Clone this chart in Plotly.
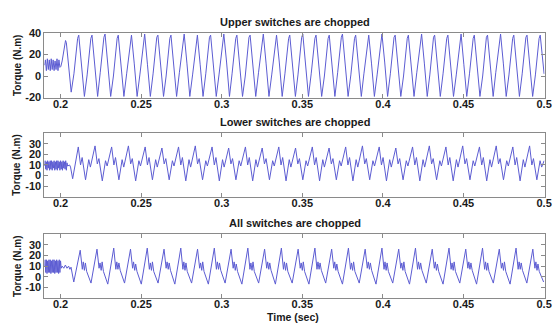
import plotly.graph_objects as go

# ---------------- data ----------------
x_ticks = [0.2, 0.25, 0.3, 0.35, 0.4, 0.45, 0.5]
x_tick_labels = ["0.2", "0.25", "0.3", "0.35", "0.4", "0.45", "0.5"]
top_y_ticks = [-20, 0, 20, 40]
low_y_ticks = [-10, 0, 10, 20, 30]
titles = ["Upper switches are chopped", "Lower switches are chopped", "All switches are chopped"]

# Panel 1: upper switches chopped (time in s, torque in N.m)
upper_t = [
    0.1900, 0.1906, 0.1912, 0.1918, 0.1924, 0.1930, 0.1936, 0.1942, 0.1948, 0.1954,
    0.1960, 0.1966, 0.1972, 0.1978, 0.1984, 0.1990, 0.1996,
    0.2002, 0.2010, 0.2020, 0.2031, 0.2036, 0.2048, 0.2066,
    0.2083, 0.2106, 0.2113, 0.2130, 0.2148,
    0.2165, 0.2188, 0.2195, 0.2212, 0.2230,
    0.2246, 0.2269, 0.2276, 0.2293, 0.2311,
    0.2328, 0.2351, 0.2358, 0.2375, 0.2393,
    0.2410, 0.2433, 0.2440, 0.2457, 0.2475,
    0.2492, 0.2515, 0.2522, 0.2539, 0.2557,
    0.2574, 0.2597, 0.2604, 0.2621, 0.2639,
    0.2655, 0.2678, 0.2685, 0.2702, 0.2720,
    0.2737, 0.2760, 0.2767, 0.2784, 0.2802,
    0.2819, 0.2842, 0.2849, 0.2866, 0.2884,
    0.2901, 0.2924, 0.2931, 0.2948, 0.2966,
    0.2983, 0.3006, 0.3013, 0.3030, 0.3048,
    0.3064, 0.3087, 0.3094, 0.3111, 0.3129,
    0.3146, 0.3169, 0.3176, 0.3193, 0.3211,
    0.3228, 0.3251, 0.3258, 0.3275, 0.3293,
    0.3310, 0.3333, 0.3340, 0.3357, 0.3375,
    0.3392, 0.3415, 0.3422, 0.3439, 0.3457,
    0.3473, 0.3496, 0.3503, 0.3520, 0.3538,
    0.3555, 0.3578, 0.3585, 0.3602, 0.3620,
    0.3637, 0.3660, 0.3667, 0.3684, 0.3702,
    0.3719, 0.3742, 0.3749, 0.3766, 0.3784,
    0.3801, 0.3824, 0.3831, 0.3848, 0.3866,
    0.3882, 0.3905, 0.3912, 0.3929, 0.3947,
    0.3964, 0.3987, 0.3994, 0.4011, 0.4029,
    0.4046, 0.4069, 0.4076, 0.4093, 0.4111,
    0.4128, 0.4151, 0.4158, 0.4175, 0.4193,
    0.4210, 0.4233, 0.4240, 0.4257, 0.4275,
    0.4291, 0.4314, 0.4321, 0.4338, 0.4356,
    0.4373, 0.4396, 0.4403, 0.4420, 0.4438,
    0.4455, 0.4478, 0.4485, 0.4502, 0.4520,
    0.4537, 0.4560, 0.4567, 0.4584, 0.4602,
    0.4619, 0.4642, 0.4649, 0.4666, 0.4684,
    0.4700, 0.4723, 0.4730, 0.4747, 0.4765,
    0.4782, 0.4805, 0.4812, 0.4829, 0.4847,
    0.4864, 0.4887, 0.4894, 0.4911, 0.4929,
    0.4946, 0.4969, 0.4976, 0.4993, 0.5000,
]
upper_y = [
    10, 15, 5, 16, 6, 15, 5, 16, 6, 15,
    5, 14, 6, 16, 5, 15, 8,
    9, 14, 22, 33, 31, 10, -15,
    2, 35, 38, 12, -19,
    1, 35, 38, 11, -19,
    3, 36, 39, 12, -19,
    0, 35, 38, 13, -19,
    2, 34, 38, 12, -19,
    1, 35, 39, 11, -19,
    2, 36, 38, 12, -19,
    0, 35, 38, 13, -19,
    3, 35, 39, 12, -19,
    1, 34, 38, 11, -19,
    2, 36, 38, 12, -19,
    1, 35, 39, 13, -19,
    2, 35, 38, 12, -19,
    0, 36, 38, 11, -19,
    3, 35, 39, 12, -19,
    1, 34, 38, 13, -19,
    2, 35, 38, 12, -19,
    1, 36, 39, 11, -19,
    2, 35, 38, 12, -19,
    0, 35, 38, 13, -19,
    3, 36, 39, 12, -19,
    1, 35, 38, 11, -19,
    2, 34, 38, 12, -19,
    1, 35, 39, 13, -19,
    2, 36, 38, 12, -19,
    0, 35, 38, 11, -19,
    3, 35, 39, 12, -19,
    1, 36, 38, 13, -19,
    2, 35, 38, 12, -19,
    1, 34, 39, 11, -19,
    2, 35, 38, 12, -19,
    0, 36, 38, 13, -19,
    3, 35, 39, 12, -19,
    1, 35, 38, 11, -19,
    2, 36, 38, 12, -19,
    1, 35, 38, 12, 2,
]

# Panel 2: lower switches chopped
lower_t = [
    0.1900, 0.1904, 0.1908, 0.1912, 0.1916, 0.1920, 0.1924, 0.1928, 0.1932, 0.1936,
    0.1940, 0.1944, 0.1948, 0.1952, 0.1956, 0.1960, 0.1964, 0.1968, 0.1972, 0.1976,
    0.1980, 0.1984, 0.1988, 0.1992, 0.1996, 0.2000, 0.2004, 0.2008, 0.2012, 0.2016,
    0.2020, 0.2024, 0.2028, 0.2032, 0.2036, 0.2040, 0.2044,
    0.2056, 0.2062, 0.2075,
    0.2110, 0.2124, 0.2134, 0.2155, 0.2175, 0.2185,
    0.2214, 0.2228, 0.2238, 0.2259, 0.2279, 0.2289,
    0.2317, 0.2331, 0.2341, 0.2362, 0.2382, 0.2392,
    0.2421, 0.2435, 0.2445, 0.2466, 0.2486, 0.2496,
    0.2525, 0.2539, 0.2549, 0.2570, 0.2590, 0.2600,
    0.2629, 0.2643, 0.2653, 0.2674, 0.2694, 0.2704,
    0.2732, 0.2746, 0.2756, 0.2777, 0.2797, 0.2807,
    0.2836, 0.2850, 0.2860, 0.2881, 0.2901, 0.2911,
    0.2940, 0.2954, 0.2964, 0.2985, 0.3005, 0.3015,
    0.3043, 0.3057, 0.3067, 0.3088, 0.3108, 0.3118,
    0.3147, 0.3161, 0.3171, 0.3192, 0.3212, 0.3222,
    0.3251, 0.3265, 0.3275, 0.3296, 0.3316, 0.3326,
    0.3354, 0.3368, 0.3378, 0.3399, 0.3419, 0.3429,
    0.3458, 0.3472, 0.3482, 0.3503, 0.3523, 0.3533,
    0.3562, 0.3576, 0.3586, 0.3607, 0.3627, 0.3637,
    0.3666, 0.3680, 0.3690, 0.3711, 0.3731, 0.3741,
    0.3769, 0.3783, 0.3793, 0.3814, 0.3834, 0.3844,
    0.3873, 0.3887, 0.3897, 0.3918, 0.3938, 0.3948,
    0.3977, 0.3991, 0.4001, 0.4022, 0.4042, 0.4052,
    0.4080, 0.4094, 0.4104, 0.4125, 0.4145, 0.4155,
    0.4184, 0.4198, 0.4208, 0.4229, 0.4249, 0.4259,
    0.4288, 0.4302, 0.4312, 0.4333, 0.4353, 0.4363,
    0.4391, 0.4405, 0.4415, 0.4436, 0.4456, 0.4466,
    0.4495, 0.4509, 0.4519, 0.4540, 0.4560, 0.4570,
    0.4599, 0.4613, 0.4623, 0.4644, 0.4664, 0.4674,
    0.4703, 0.4717, 0.4727, 0.4748, 0.4768, 0.4778,
    0.4806, 0.4820, 0.4830, 0.4851, 0.4871, 0.4881,
    0.4910, 0.4924, 0.4934, 0.4955, 0.4975, 0.4985,
    0.5000,
]
lower_y = [
    9, 14, 6, 13, 5, 14, 7, 13, 5, 14,
    6, 14, 5, 13, 7, 14, 5, 13, 6, 14,
    5, 14, 7, 13, 5, 14, 6, 13, 5, 14,
    7, 13, 6, 14, 5, 12, 9,
    10, 8, -3,
    27, 10, 17, -4, 15, 8,
    28, 11, 16, -5, 14, 9,
    27, 10, 17, -4, 15, 8,
    28, 11, 16, -5, 14, 9,
    27, 10, 17, -4, 15, 8,
    26, 11, 16, -4, 14, 9,
    27, 10, 17, -5, 15, 8,
    28, 11, 16, -4, 14, 9,
    27, 10, 17, -5, 15, 8,
    26, 11, 16, -4, 14, 9,
    27, 10, 17, -5, 15, 8,
    26, 11, 16, -4, 14, 9,
    27, 10, 17, -5, 15, 8,
    26, 11, 16, -4, 14, 9,
    27, 10, 17, -5, 15, 8,
    26, 11, 16, -4, 14, 9,
    27, 10, 17, -5, 15, 8,
    28, 11, 16, -4, 14, 9,
    27, 10, 17, -5, 15, 8,
    26, 11, 16, -4, 14, 9,
    27, 10, 17, -5, 15, 8,
    28, 11, 16, -4, 14, 9,
    27, 10, 17, -5, 15, 8,
    28, 11, 16, -4, 14, 9,
    27, 10, 17, -5, 15, 8,
    28, 11, 16, -4, 14, 9,
    27, 10, 17, -5, 15, 8,
    28, 10, 16, -4, 14, 8,
    14,
]

# Panel 3: all switches chopped
all_t = [
    0.1900, 0.1904, 0.1908, 0.1912, 0.1916, 0.1920, 0.1924, 0.1928, 0.1932, 0.1936,
    0.1940, 0.1944, 0.1948, 0.1952, 0.1956, 0.1960, 0.1964, 0.1968, 0.1972, 0.1976,
    0.1980, 0.1984, 0.1988, 0.1992, 0.1996, 0.2000, 0.2004,
    0.2010, 0.2020, 0.2030, 0.2040, 0.2050, 0.2058, 0.2065, 0.2082,
    0.2122, 0.2135, 0.2141, 0.2148, 0.2154, 0.2162, 0.2189,
    0.2226, 0.2239, 0.2245, 0.2252, 0.2258, 0.2266, 0.2293,
    0.2330, 0.2343, 0.2349, 0.2356, 0.2362, 0.2370, 0.2397,
    0.2434, 0.2447, 0.2453, 0.2460, 0.2466, 0.2474, 0.2501,
    0.2538, 0.2551, 0.2557, 0.2564, 0.2570, 0.2578, 0.2605,
    0.2642, 0.2655, 0.2661, 0.2668, 0.2674, 0.2682, 0.2709,
    0.2746, 0.2759, 0.2765, 0.2772, 0.2778, 0.2786, 0.2813,
    0.2850, 0.2863, 0.2869, 0.2876, 0.2882, 0.2890, 0.2917,
    0.2954, 0.2967, 0.2973, 0.2980, 0.2986, 0.2994, 0.3021,
    0.3058, 0.3071, 0.3077, 0.3084, 0.3090, 0.3098, 0.3125,
    0.3162, 0.3175, 0.3181, 0.3188, 0.3194, 0.3202, 0.3229,
    0.3266, 0.3279, 0.3285, 0.3292, 0.3298, 0.3306, 0.3333,
    0.3370, 0.3383, 0.3389, 0.3396, 0.3402, 0.3410, 0.3437,
    0.3474, 0.3487, 0.3493, 0.3500, 0.3506, 0.3514, 0.3541,
    0.3578, 0.3591, 0.3597, 0.3604, 0.3610, 0.3618, 0.3645,
    0.3682, 0.3695, 0.3701, 0.3708, 0.3714, 0.3722, 0.3749,
    0.3786, 0.3799, 0.3805, 0.3812, 0.3818, 0.3826, 0.3853,
    0.3890, 0.3903, 0.3909, 0.3916, 0.3922, 0.3930, 0.3957,
    0.3994, 0.4007, 0.4013, 0.4020, 0.4026, 0.4034, 0.4061,
    0.4098, 0.4111, 0.4117, 0.4124, 0.4130, 0.4138, 0.4165,
    0.4202, 0.4215, 0.4221, 0.4228, 0.4234, 0.4242, 0.4269,
    0.4306, 0.4319, 0.4325, 0.4332, 0.4338, 0.4346, 0.4373,
    0.4410, 0.4423, 0.4429, 0.4436, 0.4442, 0.4450, 0.4477,
    0.4514, 0.4527, 0.4533, 0.4540, 0.4546, 0.4554, 0.4581,
    0.4618, 0.4631, 0.4637, 0.4644, 0.4650, 0.4658, 0.4685,
    0.4722, 0.4735, 0.4741, 0.4748, 0.4754, 0.4762, 0.4789,
    0.4826, 0.4839, 0.4845, 0.4852, 0.4858, 0.4866, 0.4893,
    0.4930, 0.4943, 0.4949, 0.4956, 0.4962, 0.4970, 0.4997,
]
all_y = [
    10, 16, 4, 16, 3, 15, 4, 16, 4, 16,
    3, 15, 4, 16, 4, 16, 3, 15, 4, 16,
    4, 15, 3, 16, 4, 15, 8,
    10, 8, 11, 8, 10, 7, 9, -5,
    25, 7, 14, 6, 13, 5, -6,
    26, 8, 13, 6, 14, 5, -7,
    27, 7, 14, 7, 13, 6, -6,
    26, 8, 14, 6, 12, 5, -7,
    27, 7, 13, 6, 14, 5, -6,
    26, 8, 14, 7, 13, 6, -7,
    27, 7, 14, 6, 13, 5, -6,
    26, 8, 13, 6, 14, 5, -7,
    27, 7, 14, 7, 13, 6, -6,
    26, 8, 14, 6, 12, 5, -7,
    27, 7, 13, 6, 14, 5, -6,
    26, 8, 14, 7, 13, 6, -7,
    27, 7, 14, 6, 13, 5, -6,
    26, 8, 13, 6, 14, 5, -7,
    27, 7, 14, 7, 13, 6, -6,
    26, 8, 14, 6, 12, 5, -7,
    27, 7, 13, 6, 14, 5, -6,
    26, 8, 14, 7, 13, 6, -7,
    27, 7, 14, 6, 13, 5, -6,
    26, 8, 13, 6, 14, 5, -7,
    27, 7, 14, 7, 13, 6, -6,
    26, 8, 14, 6, 12, 5, -7,
    27, 7, 13, 6, 14, 5, -6,
    26, 8, 14, 7, 13, 6, -7,
    27, 7, 14, 6, 13, 5, -6,
    26, 8, 13, 6, 14, 5, -7,
    27, 7, 14, 7, 13, 6, -6,
    26, 8, 14, 6, 12, 5, -5,
]

# ---------------- figure ----------------
W, H = 558, 328
LINE = "rgb(92,92,210)"
FRAME = "#8a8a8a"
TEXT = "#1a1a1a"
FONT = "Liberation Sans"

x_dom = [45 / W, 551.5 / W]
panels_px = [(28, 95), (132, 198), (237, 303)]
y_doms = [[1 - b / H, 1 - t / H] for t, b in panels_px]
title_px = [17, 120, 225]

series = [(upper_t, upper_y), (lower_t, lower_y), (all_t, all_y)]

fig = go.Figure()
layout = dict(
    width=W, height=H,
    margin=dict(l=0, r=0, t=0, b=0),
    paper_bgcolor="white", plot_bgcolor="white",
    showlegend=False,
    annotations=[],
)

for i, (t, y) in enumerate(series):
    n = "" if i == 0 else str(i + 1)
    fig.add_trace(go.Scatter(x=t, y=y, mode="lines",
                             line=dict(color=LINE, width=1),
                             xaxis="x" + n, yaxis="y" + n,
                             hoverinfo="skip"))
    yt = top_y_ticks if i == 0 else low_y_ticks
    layout["xaxis" + n] = dict(
        domain=x_dom, anchor="y" + n, range=[0.19, 0.5003],
        tickvals=x_ticks, ticktext=x_tick_labels,
        ticks="inside", ticklen=4, tickcolor=FRAME,
        showline=True, linecolor=FRAME, linewidth=1, mirror="ticks",
        showgrid=False, zeroline=False,
        ticklabelstandoff=-4, ticklabeloverflow="allow",
        tickfont=dict(family=FONT, size=11, color=TEXT, weight="bold"),
    )
    layout["yaxis" + n] = dict(
        domain=y_doms[i], anchor="x" + n, range=[-20, 40],
        tickvals=yt, ticktext=[str(v) for v in yt],
        ticks="inside", ticklen=4, tickcolor=FRAME,
        showline=True, linecolor=FRAME, linewidth=1, mirror="ticks",
        showgrid=False, zeroline=False,
        tickfont=dict(family=FONT, size=11, color=TEXT, weight="bold"),
    )
    layout["annotations"].append(dict(
        text=titles[i], xref="paper", yref="paper",
        x=(x_dom[0] + x_dom[1]) / 2, y=1 - title_px[i] / H,
        xanchor="center", yanchor="middle", showarrow=False,
        font=dict(family=FONT, size=11, color=TEXT, weight="bold"),
    ))
    layout["annotations"].append(dict(
        text="Torque (N.m)", xref="paper", yref="paper",
        x=17 / W, y=(y_doms[i][0] + y_doms[i][1]) / 2,
        xanchor="center", yanchor="middle", textangle=-90, showarrow=False,
        font=dict(family=FONT, size=10, color=TEXT, weight="bold"),
    ))

layout["annotations"].append(dict(
    text="Time (sec)", xref="paper", yref="paper",
    x=297 / W, y=1 - 322.5 / H, xanchor="center", yanchor="middle",
    showarrow=False,
    font=dict(family=FONT, size=10.5, color=TEXT, weight="bold"),
))

fig.update_layout(**layout)
fig.write_html("out.html")
